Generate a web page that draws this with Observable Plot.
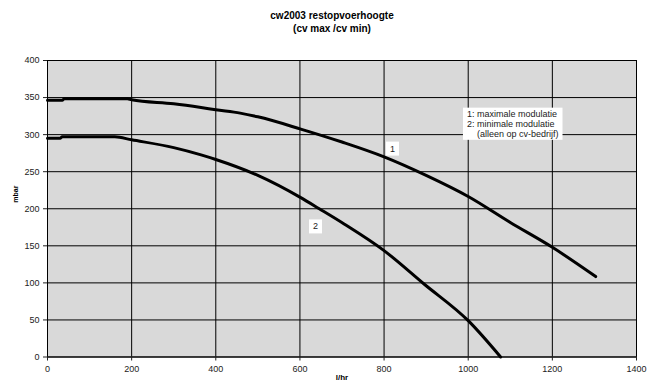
<!DOCTYPE html>
<html><head><meta charset="utf-8">
<script src="https://cdn.jsdelivr.net/npm/d3@7"></script>
<script src="https://cdn.jsdelivr.net/npm/@observablehq/plot@0.6"></script>
<style>
body{margin:0;background:#fff;font-family:"Liberation Sans",Arial,sans-serif}
#title{height:36px;box-sizing:border-box;padding:9px 0 0 16px;text-align:center;font-weight:bold;font-size:10px;line-height:13px;color:#000}
svg{display:block}
</style></head><body>
<div id="chart"><div id="title">cw2003 restopvoerhoogte<br>(cv max /cv min)</div></div>
<script>
// Data
const xTicks = [0, 200, 400, 600, 800, 1000, 1200, 1400];
const yTicks = [0, 50, 100, 150, 200, 250, 300, 350, 400];

// curve 1: maximale modulatie
const flow1 = [0, 35, 40, 190, 200, 300, 365, 400, 458, 500, 602, 700, 800, 900, 1000, 1100, 1200, 1303];
const head1 = [346.5, 346.5, 348.5, 348.5, 347, 341.5, 336.5, 333.5, 329, 324, 307.5, 290, 270, 245, 216.5, 181.5, 148, 108.5];

// curve 2: minimale modulatie
const flow2 = [0, 30, 35, 160, 200, 300, 365, 400, 500, 602, 646, 705, 800, 895, 1000, 1077];
const head2 = [295, 295, 297, 297, 293, 282.5, 272.7, 266.5, 245, 215, 200, 179.5, 143.5, 98.5, 49, 0];

const curveLabelText = ["1", "2"];
const curveLabelFlow = [820, 637];
const curveLabelHead = [281, 176];

const legendText = "1: maximale modulatie\n2: minimale modulatie\n\u00a0\u00a0\u00a0\u00a0(alleen op cv-bedrijf)";
const legendFlow = [997];
const legendHead = [315];

const xLabel = "l/hr";
const yLabel = "mbar";

const line1 = flow1.map((x, i) => ({x, y: head1[i]}));
const line2 = flow2.map((x, i) => ({x, y: head2[i]}));
const curveLabels = curveLabelText.map((t, i) => ({t, x: curveLabelFlow[i], y: curveLabelHead[i]}));

const font = '"Liberation Sans", Arial, sans-serif';

const chart = Plot.plot({
  width: 648,
  height: 351,
  marginTop: 24,
  marginBottom: 30.5,
  marginLeft: 47,
  marginRight: 12,
  style: {fontFamily: font, fontSize: "9px", color: "#222", background: "transparent", overflow: "visible"},
  x: {domain: [0, 1400]},
  y: {domain: [0, 400]},
  marks: [
    Plot.frame({fill: "#d9d9d9"}),
    Plot.gridX(xTicks, {stroke: "#000", strokeOpacity: 1, strokeWidth: 1}),
    Plot.gridY(yTicks, {stroke: "#000", strokeOpacity: 1, strokeWidth: 1}),
    Plot.frame({stroke: "#000", strokeWidth: 1}),
    Plot.axisX(xTicks, {tickSize: 4, tickPadding: 5, label: null, color: "#222", fontSize: 9, tickFormat: d => String(d)}),
    Plot.axisY(yTicks, {tickSize: 4, tickPadding: 4, label: null, color: "#222", fontSize: 9, tickFormat: d => String(d)}),
    Plot.line(line1, {x: "x", y: "y", stroke: "#000", strokeWidth: 3, strokeLinejoin: "round", curve: "monotone-x"}),
    Plot.line(line2, {x: "x", y: "y", stroke: "#000", strokeWidth: 3, strokeLinejoin: "round", curve: "monotone-x"}),
    Plot.text(curveLabels, {x: "x", y: "y", text: "t", fontSize: 9, fill: "#222", className: "boxed-small"}),
    Plot.text([legendText], {x: legendFlow, y: legendHead, text: d => d, textAnchor: "start", lineHeight: 1.12, fontSize: 9, fill: "#222", className: "boxed-legend"}),
    Plot.text([xLabel], {frameAnchor: "bottom", dy: 23, text: d => d, fontWeight: "bold", fontSize: 8, fill: "#000"}),
    Plot.text([yLabel], {frameAnchor: "left", dx: -32, dy: -6, rotate: -90, text: d => d, fontWeight: "bold", fontSize: 7, fill: "#000"})
  ]
});

document.getElementById("chart").append(chart);

function boxify(selector, px, py) {
  chart.querySelectorAll(selector + " text").forEach(t => {
    const bb = t.getBBox();
    const r = document.createElementNS("http://www.w3.org/2000/svg", "rect");
    r.setAttribute("x", bb.x - px);
    r.setAttribute("y", bb.y - py);
    r.setAttribute("width", bb.width + 2 * px);
    r.setAttribute("height", bb.height + 2 * py);
    r.setAttribute("fill", "#fff");
    const tr = t.getAttribute("transform");
    if (tr) r.setAttribute("transform", tr);
    t.parentNode.insertBefore(r, t);
  });
}
boxify(".boxed-small", 4, 2);
boxify(".boxed-legend", 4, 1);
</script></body></html>
